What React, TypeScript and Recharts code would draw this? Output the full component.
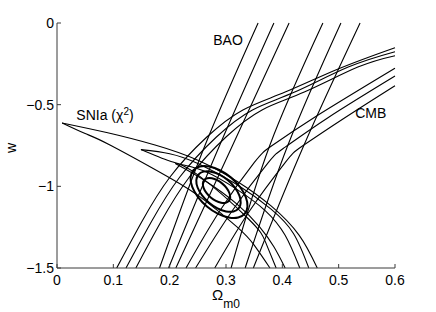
import { ComposedChart, Label, Line, ReferenceDot, XAxis, YAxis } from "recharts";

const FONT = '"Liberation Sans", Arial, Helvetica, sans-serif';

const X_TICKS = [0, 0.1, 0.2, 0.3, 0.4, 0.5, 0.6];
const Y_TICKS = [-1.5, -1, -0.5, 0];

type Pt = { x: number; y: number };
const pts = (rows: number[][]): Pt[] => rows.map(([x, y]) => ({ x, y }));

// BAO contours: left and right edges of the three nested bands (Omega_m0, w)
const baoOuterLeft = pts([[0.182, -1.5], [0.263, -0.747], [0.357, 0]]);
const baoMidLeft = pts([[0.198, -1.5], [0.289, -0.747], [0.385, 0]]);
const baoInnerLeft = pts([[0.211, -1.5], [0.312, -0.747], [0.412, 0]]);
const baoInnerRight = pts([[0.309, -1.5], [0.378, -0.747], [0.472, 0]]);
const baoMidRight = pts([[0.334, -1.5], [0.41, -0.747], [0.504, 0]]);
const baoOuterRight = pts([[0.3485, -1.5], [0.4385, -0.747], [0.538, 0]]);

// CMB contours: upper-left and lower-right edges
const cmbOuterUpper = pts([[0.106, -1.5], [0.15, -1.22], [0.2006, -0.943], [0.266, -0.698], [0.33, -0.532], [0.405, -0.423], [0.5, -0.28], [0.6, -0.151]]);
const cmbMidUpper = pts([[0.1225, -1.5], [0.167, -1.22], [0.218, -0.943], [0.283, -0.698], [0.347, -0.532], [0.422, -0.423], [0.517, -0.27], [0.6, -0.176]]);
const cmbInnerUpper = pts([[0.14, -1.5], [0.184, -1.22], [0.235, -0.943], [0.3, -0.698], [0.364, -0.532], [0.439, -0.423], [0.534, -0.27], [0.6, -0.2]]);
const cmbInnerLower = pts([[0.229, -1.5], [0.29, -1.145], [0.35, -0.855], [0.38, -0.755], [0.456, -0.58], [0.6, -0.277]]);
const cmbMidLower = pts([[0.246, -1.5], [0.312, -1.145], [0.375, -0.855], [0.405, -0.76], [0.481, -0.58], [0.6, -0.325]]);
const cmbOuterLower = pts([[0.28, -1.5], [0.343, -1.145], [0.405, -0.855], [0.435, -0.755], [0.511, -0.58], [0.6, -0.384]]);

// SNIa contours: upper and lower edges from the tip
const snOuterUpper = pts([[0.009, -0.612], [0.09, -0.672], [0.174, -0.747], [0.25, -0.84], [0.32, -0.97], [0.38, -1.12], [0.43, -1.3], [0.462, -1.5]]);
const snOuterLower = pts([[0.009, -0.612], [0.05, -0.677], [0.094, -0.747], [0.2006, -0.949], [0.26, -1.08], [0.32, -1.25], [0.35, -1.36], [0.378, -1.5]]);
const snMidUpper = pts([[0.149, -0.775], [0.2, -0.8], [0.25, -0.86], [0.32, -0.99], [0.38, -1.14], [0.42, -1.29], [0.447, -1.5]]);
const snMidLower = pts([[0.149, -0.775], [0.2, -0.845], [0.25, -0.93], [0.34, -1.2], [0.37, -1.34], [0.389, -1.5]]);
const snInnerUpper = pts([[0.21, -0.86], [0.26, -0.905], [0.32, -1.02], [0.37, -1.15], [0.405, -1.3], [0.431, -1.5]]);
const snInnerLower = pts([[0.21, -0.86], [0.26, -0.96], [0.32, -1.11], [0.36, -1.25], [0.385, -1.37], [0.405, -1.5]]);

// combined constraints (closed contours)
const combOuter = pts([[0.3346, -1.1709], [0.3226, -1.1952], [0.3052, -1.195], [0.2853, -1.1705], [0.2656, -1.1253], [0.2493, -1.0664], [0.2388, -1.0026], [0.2358, -0.9439], [0.2406, -0.8989], [0.2526, -0.8746], [0.27, -0.8748], [0.2899, -0.8993], [0.3096, -0.9445], [0.3259, -1.0034], [0.3364, -1.0672], [0.3394, -1.1259]]);
const combMid = pts([[0.3234, -1.1379], [0.314, -1.1568], [0.3004, -1.1567], [0.2849, -1.1376], [0.2695, -1.1023], [0.2568, -1.0564], [0.2486, -1.0066], [0.2463, -0.9608], [0.25, -0.9257], [0.2594, -0.9068], [0.273, -0.9069], [0.2885, -0.926], [0.3039, -0.9613], [0.3166, -1.0072], [0.3248, -1.057], [0.3271, -1.1028]]);
const combInner = pts([[0.3058, -1.091], [0.3, -1.1026], [0.2916, -1.1025], [0.2821, -1.0908], [0.2726, -1.0691], [0.2648, -1.0408], [0.2598, -1.0102], [0.2583, -0.982], [0.2606, -0.9604], [0.2664, -0.9488], [0.2748, -0.9489], [0.2843, -0.9606], [0.2938, -0.9823], [0.3016, -1.0106], [0.3066, -1.0412], [0.3081, -1.0694]]);

const OPEN_CURVES = [
  baoOuterLeft, baoMidLeft, baoInnerLeft, baoInnerRight, baoMidRight, baoOuterRight,
  cmbOuterUpper, cmbMidUpper, cmbInnerUpper, cmbInnerLower, cmbMidLower, cmbOuterLower,
  snOuterUpper, snOuterLower, snMidUpper, snMidLower, snInnerUpper, snInnerLower,
];
const CLOSED_CURVES = [combOuter, combMid, combInner];

const fmt = (v: number) => (v < 0 ? "\u2212" + String(-v) : String(v));

const BottomTick = ({ x, y, payload }: any) => (
  <text x={x} y={y + 10} textAnchor="middle" fontSize={14} fontFamily={FONT} fill="#000">
    {fmt(payload.value)}
  </text>
);

const LeftTick = ({ x, y, payload }: any) => (
  <text x={x} y={y + 5} textAnchor="end" fontSize={14} fontFamily={FONT} fill="#000">
    {fmt(payload.value)}
  </text>
);

const note = (node: (cx: number, cy: number) => any) => (props: any) => {
  const vb = props.viewBox || {};
  return node(vb.x ?? 0, vb.y ?? 0);
};

export default function App() {
  const frame = "#3a3a3a";
  return (
    <div style={{ position: "absolute", left: 0, top: 0, width: 436, height: 312, background: "#fff" }}>
      <ComposedChart width={436} height={312} margin={{ top: 23, right: 41, bottom: 14, left: 17 }}>
        <XAxis
          xAxisId="b"
          type="number"
          dataKey="x"
          domain={[0, 0.6]}
          ticks={X_TICKS}
          height={30}
          tickSize={-4}
          tickMargin={11}
          tick={<BottomTick />}
          stroke={frame}
          interval={0}
        >
          <Label
            content={() => (
              <text x={212} y={300} fontSize={15} fontFamily={FONT} fill="#000">
                Ω
                <tspan dy={8} fontSize={12}>m0</tspan>
              </text>
            )}
          />
        </XAxis>
        <XAxis
          xAxisId="t"
          orientation="top"
          type="number"
          dataKey="x"
          domain={[0, 0.6]}
          ticks={X_TICKS}
          height={0}
          tickSize={-4}
          tick={false}
          stroke={frame}
          interval={0}
        />
        <YAxis
          yAxisId="l"
          type="number"
          domain={[-1.5, 0]}
          ticks={Y_TICKS}
          width={40}
          tickSize={-4}
          tickMargin={7}
          tick={<LeftTick />}
          stroke={frame}
          interval={0}
        >
          <Label
            content={() => (
              <text x={16} y={148} transform="rotate(-90 16 148)" textAnchor="middle" fontSize={14} fontFamily={FONT} fill="#000">
                w
              </text>
            )}
          />
        </YAxis>
        <YAxis
          yAxisId="r"
          orientation="right"
          type="number"
          domain={[-1.5, 0]}
          ticks={Y_TICKS}
          width={0}
          tickSize={-4}
          tick={false}
          stroke={frame}
          interval={0}
        />

        {OPEN_CURVES.map((c, i) => (
          <Line
            key={`o${i}`}
            xAxisId="b"
            yAxisId="l"
            data={c}
            dataKey="y"
            type="natural"
            stroke="#000"
            strokeWidth={1.1}
            dot={false}
            activeDot={false}
            isAnimationActive={false}
          />
        ))}
        {CLOSED_CURVES.map((c, i) => (
          <Line
            key={`c${i}`}
            xAxisId="b"
            yAxisId="l"
            data={c}
            dataKey="y"
            type="basisClosed"
            stroke="#000"
            strokeWidth={2}
            dot={false}
            activeDot={false}
            isAnimationActive={false}
          />
        ))}

        <ReferenceDot
          xAxisId="b"
          yAxisId="l"
          x={0.3036}
          y={-0.104}
          r={0}
          label={note((cx, cy) => (
            <text x={cx} y={cy + 5} textAnchor="middle" fontSize={14} fontFamily={FONT} fill="#000">BAO</text>
          ))}
        />
        <ReferenceDot
          xAxisId="b"
          yAxisId="l"
          x={0.0852}
          y={-0.563}
          r={0}
          label={note((cx, cy) => (
            <text x={cx} y={cy + 5} textAnchor="middle" fontSize={14} fontFamily={FONT} fill="#000">
              SNIa (χ<tspan dy={-5} fontSize={10}>2</tspan><tspan dy={5}>)</tspan>
            </text>
          ))}
        />
        <ReferenceDot
          xAxisId="b"
          yAxisId="l"
          x={0.557}
          y={-0.551}
          r={0}
          label={note((cx, cy) => (
            <text x={cx} y={cy + 5} textAnchor="middle" fontSize={14} fontFamily={FONT} fill="#000">CMB</text>
          ))}
        />
      </ComposedChart>
    </div>
  );
}
